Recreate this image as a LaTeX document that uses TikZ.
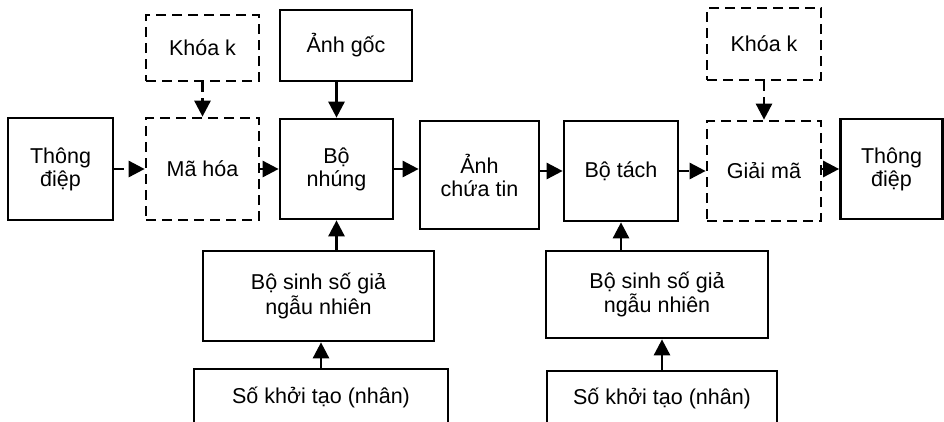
\documentclass[tikz,border=0pt]{standalone}
\usepackage{fontspec}
\setmainfont{Liberation Sans}
\usetikzlibrary{arrows.meta}
\begin{document}
\begin{tikzpicture}[x=1pt,y=-1pt,
  box/.style={draw, line width=2.7pt, inner sep=0pt, align=center,
    font=\fontsize{21.5}{23}\selectfont},
  dbox/.style={box, dash pattern=on 10pt off 6pt},
  link/.style={line width=2.7pt, -{Triangle[length=16pt,width=16pt]}},
  dlink/.style={link, dash pattern=on 10pt off 6pt},
]
\clip (0,0) rectangle (944,421);

% embedding side
\node[box, minimum width=105, minimum height=102] (msgL) at (60.5,169) {Thông\\điệp};
\node[dbox, minimum width=113, minimum height=66] (keyL) at (202.5,48) {Khóa k};
\node[dbox, minimum width=113, minimum height=102] (enc) at (202.5,169) {Mã hóa};
\node[box, minimum width=132, minimum height=71] (orig) at (346,45.5) {Ảnh gốc};
\node[box, minimum width=113, minimum height=100] (emb) at (336.5,169) {Bộ\\nhúng};
\node[box, minimum width=231, minimum height=90] (prngL) at (318.5,296) {Bộ sinh số giả\\ngẫu nhiên};
\node[box, minimum width=254, minimum height=56] (seedL) at (321,397) {Số khởi tạo (nhân)};

% stego image
\node[box, minimum width=119, minimum height=108] (stego) at (479.5,175) {Ảnh\\chứa tin};

% extraction side
\node[box, minimum width=114, minimum height=100] (ext) at (621,171) {Bộ tách};
\node[dbox, minimum width=114, minimum height=72] (keyR) at (764,44) {Khóa k};
\node[dbox, minimum width=114, minimum height=100] (dec) at (764,171) {Giải mã};
\node[box, minimum width=102, minimum height=100] (msgR) at (891.5,169) {Thông\\điệp};
\node[box, minimum width=222, minimum height=87] (prngR) at (657,294.5) {Bộ sinh số giả\\ngẫu nhiên};
\node[box, minimum width=230, minimum height=54] (seedR) at (662,398) {Số khởi tạo (nhân)};

% connectors
\draw[dlink] (msgL.east) -- (enc.west);
\draw[dlink] (keyL.south) -- (enc.north);
\draw[link] (enc.east) -- (emb.west);
\draw[link] (orig.south -| emb.north) -- (emb.north);
\draw[link] (emb.south |- prngL.north) -- (emb.south);
\draw[link] (seedL.north) -- (seedL.north |- prngL.south);
\draw[link] (emb.east) -- (emb.east -| stego.west);
\draw[link] (stego.east |- ext.west) -- (ext.west);
\draw[link] (ext.south |- prngR.north) -- (ext.south);
\draw[link] (seedR.north) -- (seedR.north |- prngR.south);
\draw[dlink] (ext.east) -- (dec.west);
\draw[dlink] (keyR.south) -- (dec.north);
\draw[link] (dec.east |- msgR.west) -- (msgR.west);
\end{tikzpicture}
\end{document}
